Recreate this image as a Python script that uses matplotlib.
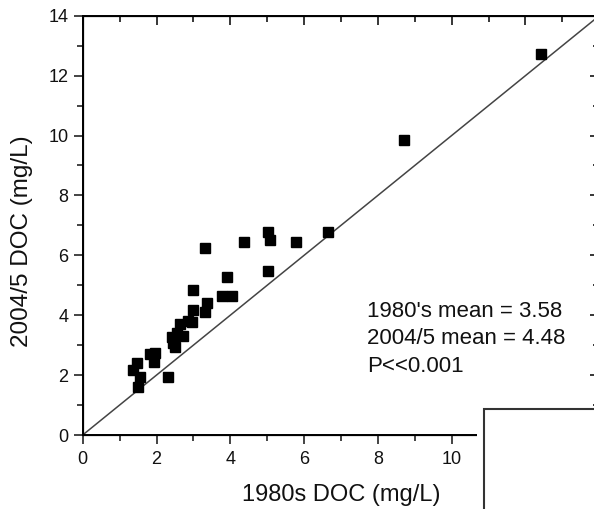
import matplotlib
matplotlib.use('Agg')
import matplotlib.pyplot as plt
from matplotlib.patches import Rectangle
from matplotlib.ticker import MultipleLocator, FuncFormatter

plt.rcParams['font.family'] = ['Liberation Sans', 'DejaVu Sans']

# DOC values (mg/L)
doc_1980s = [1.37, 1.46, 1.51, 1.55, 1.82, 1.93, 1.96, 2.32, 2.41, 2.46, 2.50,
             2.55, 2.64, 2.73, 2.85, 2.95, 3.00, 3.00, 3.31, 3.36, 3.32, 3.78,
             4.05, 3.90, 4.38, 5.03, 5.08, 5.03, 5.78, 6.66, 8.72, 12.41]
doc_2004 = [2.17, 2.39, 1.61, 1.95, 2.72, 2.45, 2.73, 1.92, 3.28, 3.06, 2.95,
            3.40, 3.70, 3.32, 3.82, 3.78, 4.17, 4.84, 4.12, 4.40, 6.23, 4.64,
            4.64, 5.28, 6.43, 6.79, 6.51, 5.49, 6.43, 6.78, 9.85, 12.72]
one_to_one = [0, 14]
stats_lines = ["1980's mean = 3.58", "2004/5 mean = 4.48", "P<<0.001"]

W, H = 594, 509
fig = plt.figure(figsize=(W / 100, H / 100), dpi=100)
ax = fig.add_axes([82.7 / W, 74 / H, (599.3 - 82.7) / W, (435 - 15.7) / H])

ax.plot(one_to_one, one_to_one, color='#444444', lw=1.1, zorder=2)
ax.plot(doc_1980s, doc_2004, 's', color='black', ms=7, zorder=3)

ax.set_xlim(0, 14)
ax.set_ylim(0, 14)
ax.xaxis.set_major_locator(MultipleLocator(2))
ax.xaxis.set_minor_locator(MultipleLocator(1))
ax.yaxis.set_major_locator(MultipleLocator(2))
ax.yaxis.set_minor_locator(MultipleLocator(1))
# the 12 and 14 labels sit under the overlapping panel
ax.xaxis.set_major_formatter(FuncFormatter(lambda v, p: '%d' % v if v <= 10 else ''))

for s in ax.spines.values():
    s.set_linewidth(1.4)

# bottom/left ticks outward, top/right inward
ax.tick_params(which='both', width=1.1, labelsize=13, colors='#111111')
ax.tick_params(which='major', length=6.7)
ax.tick_params(which='minor', length=4.2)
ax.tick_params(axis='x', which='both', direction='out', pad=5)
ax.tick_params(axis='y', which='both', direction='out', pad=3.5)

axt = ax.twiny()
axt.set_xlim(ax.get_xlim())
axt.xaxis.set_major_locator(MultipleLocator(2))
axt.xaxis.set_minor_locator(MultipleLocator(1))
axt.tick_params(which='both', direction='in', width=1.1, labeltop=False)
axt.tick_params(which='major', length=6.7)
axt.tick_params(which='minor', length=4.2)
axr = ax.twinx()
axr.set_ylim(ax.get_ylim())
axr.yaxis.set_major_locator(MultipleLocator(2))
axr.yaxis.set_minor_locator(MultipleLocator(1))
axr.tick_params(which='both', direction='in', width=1.1, labelright=False)
axr.tick_params(which='major', length=6.7)
axr.tick_params(which='minor', length=4.2)

ax.set_xlabel('1980s DOC (mg/L)', fontsize=17, labelpad=11, color='#111111')
ax.set_ylabel('2004/5 DOC (mg/L)', fontsize=17.5, color='#111111')
ax.yaxis.set_label_coords(-0.096, 0.463)

for i, line in enumerate(stats_lines):
    ax.text(7.70, 4.12 - 0.91 * i, line, fontsize=16, va='center', ha='left',
            color='#111111')

# white panel overlapping the lower right corner
fig.add_artist(Rectangle((477 / W, -0.1), 0.3, (509 - 409) / H + 0.1,
                         transform=fig.transFigure, facecolor='white',
                         edgecolor='none', zorder=5))
fig.add_artist(Rectangle((484 / W, -0.1), 0.3, (509 - 409) / H + 0.1,
                         transform=fig.transFigure, facecolor='white',
                         edgecolor='#333333', lw=1.5, zorder=6))

fig.savefig('out.png', dpi=100)
